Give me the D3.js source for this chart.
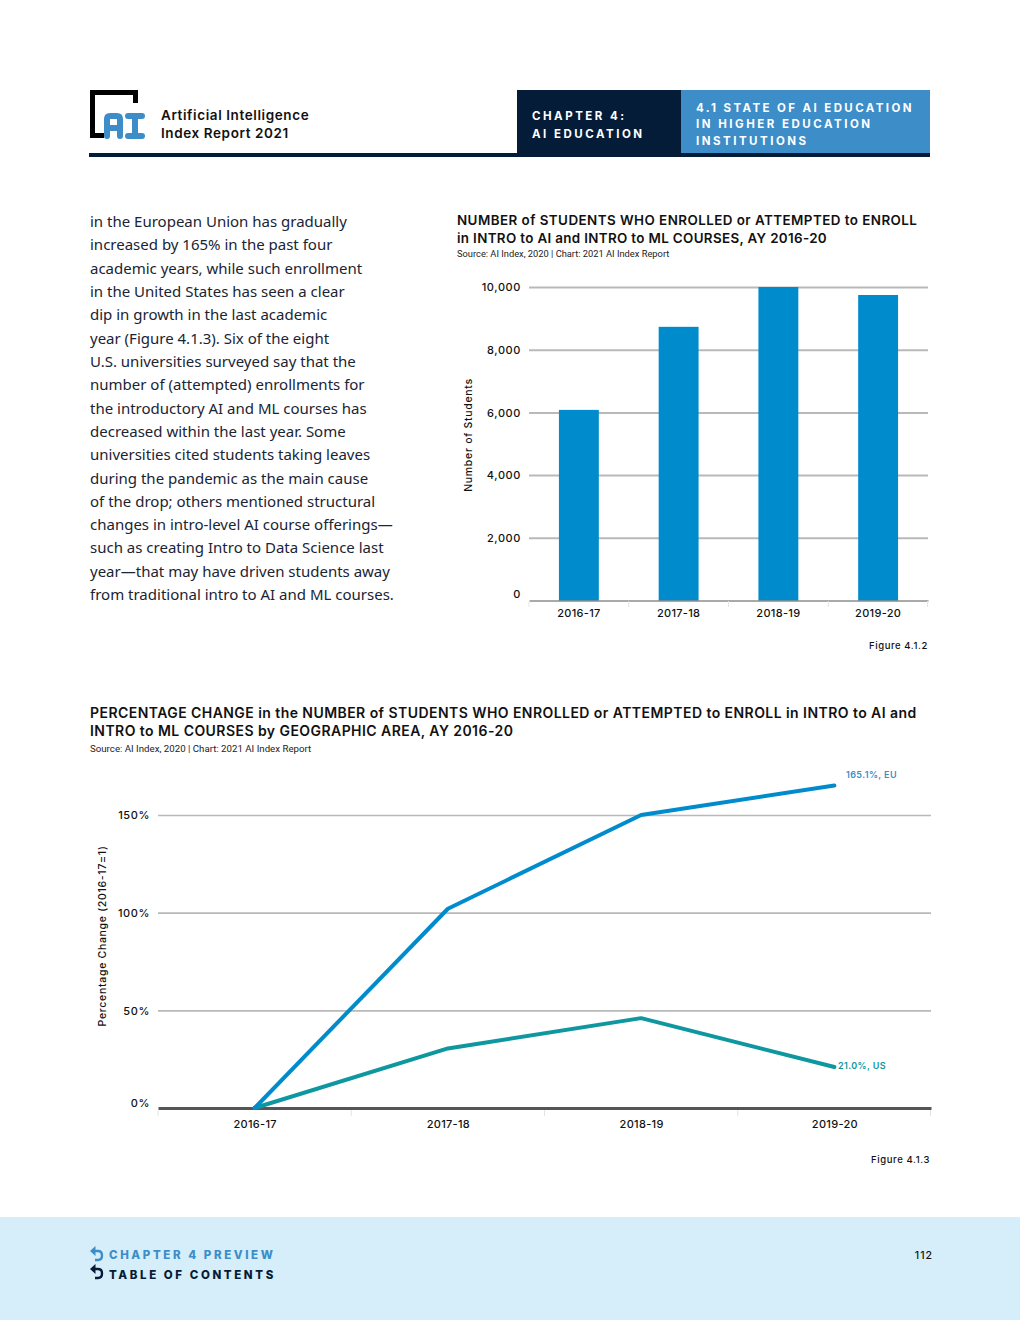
<!DOCTYPE html>
<html>
<head>
<meta charset="utf-8">
<script src="https://cdn.jsdelivr.net/npm/d3@7"></script>
<style>
  html, body { margin: 0; padding: 0; background: #fff; }
  svg { display: block; }
  text { font-family: Inter, sans-serif; fill: #111; }
  .body { font-family: "Noto Sans", sans-serif; font-size: 15px; fill: #1a2433; }
  .title { font-size: 13.4px; font-weight: 600; letter-spacing: 0.45px; }
  .title-wide { font-size: 14px; font-weight: 600; letter-spacing: 0.44px; }
  .source { font-family: Roboto, sans-serif; font-size: 9.3px; fill: #222; }
  .source-wide { font-family: Roboto, sans-serif; font-size: 9.7px; fill: #222; }
  .tick-label { font-size: 11px; font-weight: 500; letter-spacing: 0.3px; }
  .tick-y { font-size: 11px; font-weight: 500; letter-spacing: 0.6px; }
  .axis-title { font-size: 10.5px; font-weight: 500; letter-spacing: 0.7px; }
  .figure { font-size: 9.5px; font-weight: 500; letter-spacing: 0.6px; text-anchor: end; }
  .caps { font-size: 11.5px; font-weight: 700; letter-spacing: 2.5px; }
  .caps-foot { font-size: 11.5px; font-weight: 800; letter-spacing: 2.6px; }
  .hd { font-size: 13.5px; font-weight: 600; letter-spacing: 0.6px; }
  .end-label { font-size: 9px; font-weight: 600; letter-spacing: 0.4px; }
</style>
</head>
<body>
<svg id="page" width="1020" height="1320"></svg>
<script>
const years = ["2016-17", "2017-18", "2018-19", "2019-20"];
const students = [6080, 8730, 10000, 9745];
const studentTicks = [0, 2000, 4000, 6000, 8000, 10000];

const euChange = [0, 102, 150, 165.1];
const usChange = [0, 30.5, 46, 21];
const changeTicks = [0, 50, 100, 150];

const paragraph = [
  "in the European Union has gradually",
  "increased by 165% in the past four",
  "academic years, while such enrollment",
  "in the United States has seen a clear",
  "dip in growth in the last academic",
  "year (Figure 4.1.3). Six of the eight",
  "U.S. universities surveyed say that the",
  "number of (attempted) enrollments for",
  "the introductory AI and ML courses has",
  "decreased within the last year. Some",
  "universities cited students taking leaves",
  "during the pandemic as the main cause",
  "of the drop; others mentioned structural",
  "changes in intro-level AI course offerings—",
  "such as creating Intro to Data Science last",
  "year—that may have driven students away",
  "from traditional intro to AI and ML courses."
];

const navy = "#051c38";
const midBlue = "#3c8dc8";
const barBlue = "#008ccc";
const teal = "#0f97a0";
const gridGrey = "#b9b9b9";

const svg = d3.select("#page");

function label(x, y, str, cls) {
  return svg.append("text").attr("x", x).attr("y", y).attr("class", cls).text(str);
}

function box(x, y, w, h, fill) {
  return svg.append("rect").attr("x", x).attr("y", y).attr("width", w).attr("height", h).attr("fill", fill);
}

// header
box(89, 153, 841, 4, navy);
box(517, 90, 164, 67, navy);
box(681, 90, 249, 63, midBlue);

box(90, 90, 5, 48, "#000");
box(90, 90, 48, 5, "#000");
box(133, 90, 5, 13, "#000");
box(90, 133, 14, 5, "#000");
svg.append("path")
  .attr("d", "M107 136V119q0-3 3-3h7q3 0 3 3v17M107 128h13")
  .attr("fill", "none").attr("stroke", midBlue).attr("stroke-width", 6).attr("stroke-linecap", "round");
svg.append("path")
  .attr("d", "M128 116h14M135 116v20M128 136h14")
  .attr("fill", "none").attr("stroke", midBlue).attr("stroke-width", 6).attr("stroke-linecap", "round");

label(161, 120, "Artificial Intelligence", "hd");
label(161, 138, "Index Report 2021", "hd");

label(532, 120, "CHAPTER 4:", "caps").style("fill", "#fff");
label(532, 138, "AI EDUCATION", "caps").style("fill", "#fff");
label(696, 112, "4.1 STATE OF AI EDUCATION", "caps").style("fill", "#fff").style("letter-spacing", "2.4px");
label(696, 128, "IN HIGHER EDUCATION", "caps").style("fill", "#fff");
label(696, 145, "INSTITUTIONS", "caps").style("fill", "#fff");

// body copy
paragraph.forEach((line, i) => {
  label(90, 227 + i * 23.32, line, "body");
});

// bar chart
label(457, 225, "NUMBER of STUDENTS WHO ENROLLED or ATTEMPTED to ENROLL", "title");
label(457, 243, "in INTRO to AI and INTRO to ML COURSES, AY 2016-20", "title").style("letter-spacing", "0.34px");
label(457, 257, "Source: AI Index, 2020 | Chart: 2021 AI Index Report", "source");

const barX = d3.scaleBand().domain(years).range([529, 928]).paddingInner(0.6).paddingOuter(0.3);
const barY = d3.scaleLinear().domain([0, 10000]).range([600.5, 287]);

const barYAxis = svg.append("g")
  .attr("transform", "translate(529,0)")
  .call(d3.axisLeft(barY).tickValues(studentTicks).tickFormat(d3.format(",")).tickSize(0).tickPadding(8));
barYAxis.select(".domain").remove();
barYAxis.selectAll("text").attr("class", "tick-y").attr("dy", "0.35em");
barYAxis.selectAll(".tick").filter(d => d > 0).append("line")
  .attr("x2", 399).attr("stroke", gridGrey).attr("stroke-width", 2);
barYAxis.selectAll(".tick").filter(d => d === 0).select("text").attr("dy", "-0.3em");

svg.append("g").selectAll("rect")
  .data(students)
  .join("rect")
  .attr("x", (d, i) => barX(years[i]))
  .attr("y", d => barY(d))
  .attr("width", barX.bandwidth())
  .attr("height", d => barY(0) - barY(d))
  .attr("fill", barBlue);

const barXAxis = svg.append("g")
  .attr("transform", "translate(0,600.5)")
  .call(d3.axisBottom(barX).tickSize(0).tickPadding(9));
barXAxis.select(".domain").attr("stroke", "#555").attr("stroke-width", 1);
barXAxis.selectAll("text").attr("class", "tick-label");
svg.append("g").selectAll("line")
  .data(d3.range(years.length + 1))
  .join("line")
  .attr("x1", i => 529 + i * barX.step() - (i === years.length ? 0.5 : 0))
  .attr("x2", i => 529 + i * barX.step() - (i === years.length ? 0.5 : 0))
  .attr("y1", 601).attr("y2", 607)
  .attr("stroke", "#e4e4e4");

svg.append("text")
  .attr("class", "axis-title")
  .attr("transform", "translate(472,435) rotate(-90)")
  .attr("text-anchor", "middle")
  .text("Number of Students");

label(928, 649, "Figure 4.1.2", "figure");

// line chart
label(90, 718, "PERCENTAGE CHANGE in the NUMBER of STUDENTS WHO ENROLLED or ATTEMPTED to ENROLL in INTRO to AI and", "title-wide");
label(90, 736, "INTRO to ML COURSES by GEOGRAPHIC AREA, AY 2016-20", "title-wide");
label(90, 752, "Source: AI Index, 2020 | Chart: 2021 AI Index Report", "source-wide");

const lineX = d3.scalePoint().domain(years).range([158, 931]).padding(0.5);
const lineY = d3.scaleLinear().domain([0, 150]).range([1108, 815]);

const lineYAxis = svg.append("g")
  .attr("transform", "translate(158,0)")
  .call(d3.axisLeft(lineY).tickValues(changeTicks).tickFormat(d => d + "%").tickSize(0).tickPadding(8));
lineYAxis.select(".domain").remove();
lineYAxis.selectAll("text").attr("class", "tick-y").attr("dy", "0.35em");
lineYAxis.selectAll(".tick").filter(d => d > 0).append("line")
  .attr("x2", 773).attr("stroke", gridGrey).attr("stroke-width", 1.6);
lineYAxis.selectAll(".tick").filter(d => d === 0).select("text").attr("dy", "-0.1em");

const lineXAxis = svg.append("g")
  .attr("transform", "translate(0,1108)")
  .call(d3.axisBottom(lineX).tickSize(0).tickPadding(12));
lineXAxis.select(".domain").attr("stroke", "#555").attr("stroke-width", 3);
lineXAxis.selectAll("text").attr("class", "tick-label");
svg.append("g").selectAll("line")
  .data(d3.range(years.length + 1))
  .join("line")
  .attr("x1", i => 158 + i * lineX.step() - (i === years.length ? 0.5 : 0))
  .attr("x2", i => 158 + i * lineX.step() - (i === years.length ? 0.5 : 0))
  .attr("y1", 1110).attr("y2", 1116)
  .attr("stroke", "#e4e4e4");

const lineGen = d3.line().x((d, i) => lineX(years[i])).y(d => lineY(d));

[[usChange, teal], [euChange, barBlue]].forEach(([values, colour]) => {
  svg.append("path")
    .datum(values)
    .attr("d", lineGen)
    .attr("fill", "none")
    .attr("stroke", colour)
    .attr("stroke-width", 4)
    .attr("stroke-linecap", "round")
    .attr("stroke-linejoin", "round");
});

label(846, 778, "165.1%, EU", "end-label").style("fill", midBlue);
label(838, 1069, "21.0%, US", "end-label").style("fill", teal);

svg.append("text")
  .attr("class", "axis-title")
  .attr("transform", "translate(106,936) rotate(-90)")
  .attr("text-anchor", "middle")
  .text("Percentage Change (2016-17=1)");

label(930, 1163, "Figure 4.1.3", "figure");

// footer
box(0, 1217, 1020, 103, "#d5eef9");

function backArrow(x, y, colour) {
  svg.append("path")
    .attr("d", `M${x + 5} ${y - 3}h3q4 0 4 4.5t-4 4.5h-3`)
    .attr("fill", "none").attr("stroke", colour).attr("stroke-width", 2.4);
  svg.append("path")
    .attr("d", `M${x + 5.5} ${y - 8}L${x} ${y - 3}L${x + 5.5} ${y + 2}Z`)
    .attr("fill", colour);
}
backArrow(90, 1254, midBlue);
backArrow(90, 1272, navy);

label(109, 1259, "CHAPTER 4 PREVIEW", "caps-foot").style("fill", midBlue);
label(109, 1279, "TABLE OF CONTENTS", "caps-foot").style("fill", navy);
label(933, 1259, "112", "figure").style("font-size", "10.5px").style("letter-spacing", "1px");
</script>
</body>
</html>
